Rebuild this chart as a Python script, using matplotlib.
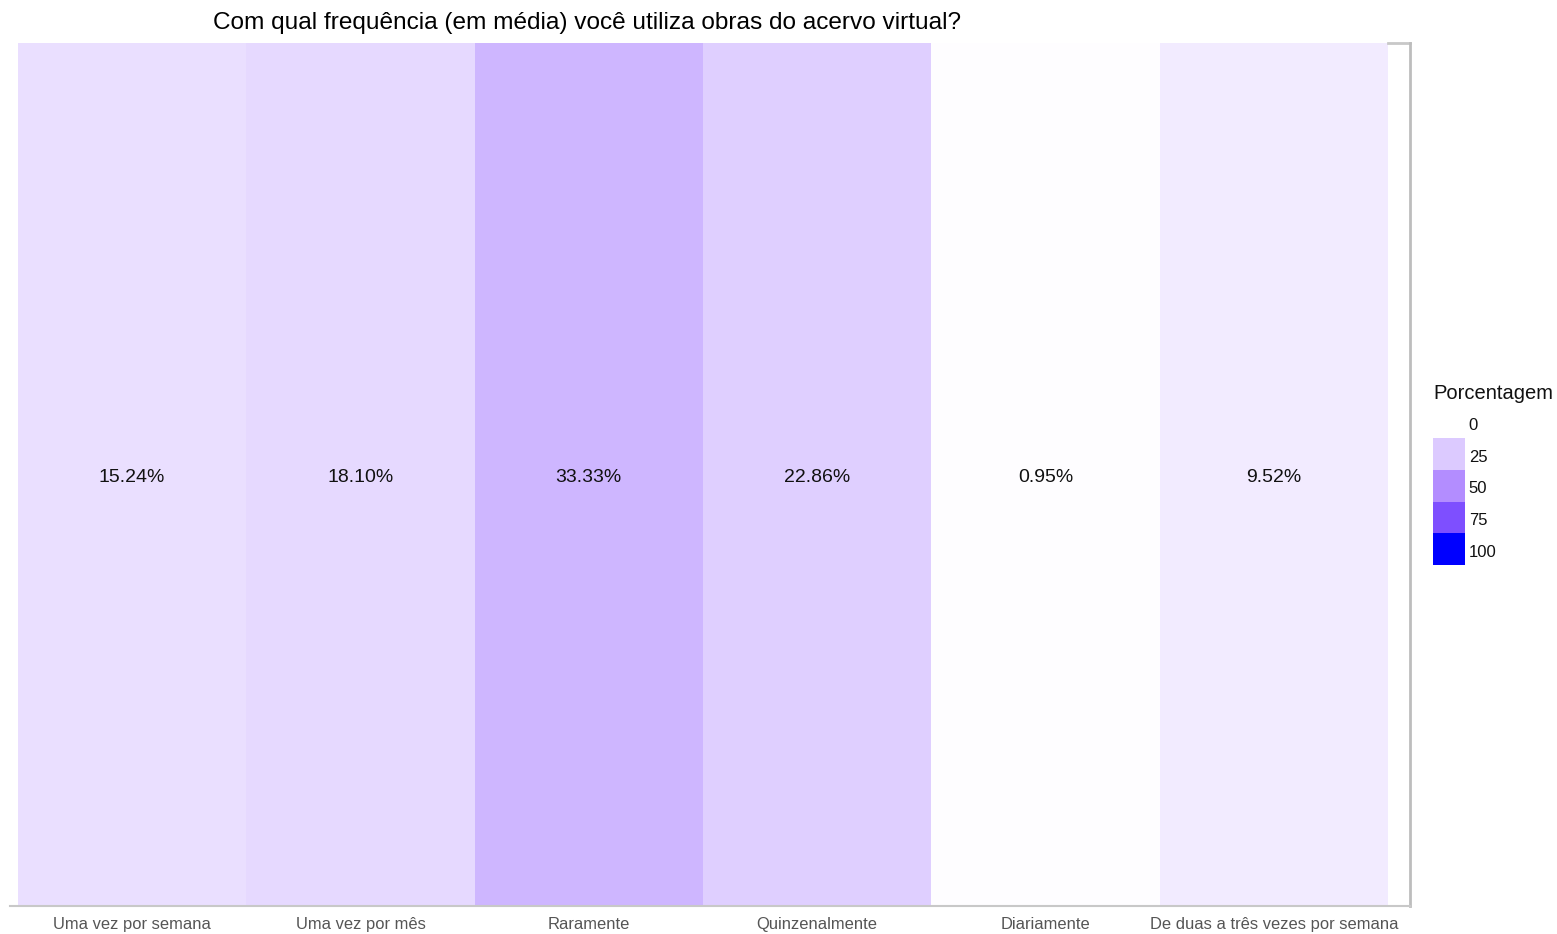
import matplotlib.pyplot as plt
from matplotlib.colors import LinearSegmentedColormap

plt.rcParams['font.family'] = ['Liberation Sans', 'DejaVu Sans']

categorias = ['Uma vez por semana', 'Uma vez por mês', 'Raramente',
              'Quinzenalmente', 'Diariamente', 'De duas a três vezes por semana']
porcentagens = [15.24, 18.10, 33.33, 22.86, 0.95, 9.52]
niveis_legenda = [0, 25, 50, 75, 100]

cmap = LinearSegmentedColormap.from_list(
    'porc', [(0.0, '#ffffff'), (0.25, '#dccaff'), (0.5, '#b38dff'),
             (0.75, '#7f50ff'), (1.0, '#0000ff')])

W, H = 1557, 934
fig = plt.figure(figsize=(W / 100, H / 100), dpi=100)

# eixo principal (coordenadas em pixels)
x0, x1, y0, y1 = 10, 1410, 43, 906
ax = fig.add_axes([x0 / W, 1 - y1 / H, (x1 - x0) / W, (y1 - y0) / H])

n = len(categorias)
xs = list(range(n))
ax.bar(xs, [1] * n, width=1.0, bottom=0,
       color=[cmap(p / 100) for p in porcentagens], linewidth=0, zorder=1)
for x, p in zip(xs, porcentagens):
    ax.text(x, 0.497, f'{p:.2f}%', ha='center', va='center', fontsize=14,
            color='#111111', zorder=3)

passo = 228.3
ax.set_xlim(-0.5 - (18 - x0) / passo, n - 0.5 + (x1 - 1388) / passo)
ax.set_ylim(0, 1)
ax.set_xticks(xs)
ax.set_xticklabels(categorias, fontsize=11.9, color='#555555')
ax.tick_params(axis='x', length=0, pad=8)
ax.set_yticks([])
for s in ['top', 'left']:
    ax.spines[s].set_visible(False)
ax.spines['bottom'].set_color('#c8c8c8')
ax.spines['bottom'].set_linewidth(1.5)
ax.spines['right'].set_color('#bdbdbd')
ax.spines['right'].set_linewidth(2)
ax.plot([n - 0.5, ax.get_xlim()[1]], [1, 1], color='#c8c8c8', lw=2,
        clip_on=False, zorder=2)

fig.text(587 / W, 1 - 23 / H, 'Com qual frequência (em média) você utiliza obras do acervo virtual?',
         ha='center', va='center', fontsize=17.6, color='#000000')

# legenda em degraus
lx0, lx1, ly0, ly1 = 1433, 1465, 406.5, 565
lax = fig.add_axes([lx0 / W, 1 - ly1 / H, (lx1 - lx0) / W, (ly1 - ly0) / H])
m = len(niveis_legenda)
lax.bar([0] * m, [1] * m, width=1.0, bottom=list(range(m)),
        color=[cmap(v / 100) for v in niveis_legenda], linewidth=0)
lax.set_xlim(-0.5, 0.5)
lax.set_ylim(m, 0)
lax.axis('off')
for i, v in enumerate(niveis_legenda):
    lax.text(1.12, i + 0.6, str(v), transform=lax.get_yaxis_transform(),
             ha='left', va='center', fontsize=12, color='#111111')
fig.text(1433 / W, 1 - 393 / H, 'Porcentagem', ha='left', va='center',
         fontsize=14.5, color='#111111')

fig.savefig('out.png', dpi=100)
